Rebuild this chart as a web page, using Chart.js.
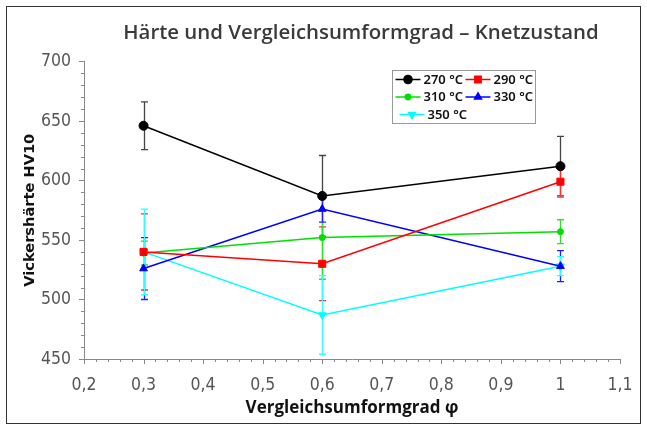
<!DOCTYPE html>
<html>
<head>
<meta charset="utf-8">
<script src="https://cdn.jsdelivr.net/npm/chart.js@4"></script>
<style>
  html, body { margin: 0; padding: 0; background: #fff; }
  #wrap { width: 647px; height: 431px; }
</style>
</head>
<body>
<div id="wrap"><canvas id="c" width="647" height="431"></canvas></div>
<script>
// Vergleichsumformgrad (x) und Härte je Temperatur
const phi = [0.3, 0.6, 1.0];
const temps = ['270 °C', '290 °C', '310 °C', '330 °C', '350 °C'];
const hv270 = [646, 587, 612];
const hv290 = [540, 530, 599];
const hv310 = [539, 552, 557];
const hv330 = [526, 576, 528];
const hv350 = [540, 487, 528];
// Standardabweichung (Fehlerbalken)
const err270 = [20, 34, 25];
const err290 = [32, 31, 13];
const err310 = [10, 35, 10];
const err330 = [26, 11, 13];
const err350 = [36, 33, 8];

const colors = ['#000000', '#ff0000', '#00e000', '#0000ff', '#00ffff'];
const barColors = ['#444444', '#ff3030', '#30e030', '#2020ff', '#30ffff'];
const styles = ['circle', 'rect', 'circle', 'triangle', 'triangle'];
const radii = [4.5, 5, 3, 4.5, 4.5];
const rotations = [0, 0, 0, 0, 180];

const series = [hv270, hv290, hv310, hv330, hv350];
const errors = [err270, err290, err310, err330, err350];

const datasets = series.map((vals, i) => ({
  label: temps[i],
  data: phi.map((x, j) => ({ x: x, y: vals[j] })),
  borderColor: colors[i],
  backgroundColor: colors[i],
  borderWidth: 1.5,
  pointStyle: styles[i],
  pointRadius: radii[i],
  pointRotation: rotations[i],
  pointBorderWidth: 1,
  errs: errors[i],
  barColor: barColors[i],
  tension: 0
}));

const fmt = v => String(Math.round(v * 10) / 10).replace('.', ',');

// Hintergrund + Rahmen, Titel etwas nach rechts
const framePlugin = {
  id: 'frame',
  afterLayout(chart) {
    chart.titleBlock.left += 18;
  },
  beforeDraw(chart) {
    const ctx = chart.ctx;
    ctx.save();
    ctx.fillStyle = '#fff';
    ctx.fillRect(0, 0, chart.width, chart.height);
    ctx.strokeStyle = '#333';
    ctx.lineWidth = 1;
    ctx.strokeRect(6.5, 6.5, 634, 417);
    ctx.restore();
  }
};

// Fehlerbalken
const errorBarPlugin = {
  id: 'errorBars',
  beforeDatasetsDraw(chart) {
    const ctx = chart.ctx;
    const xs = chart.scales.x, ys = chart.scales.y;
    ctx.save();
    chart.data.datasets.forEach(ds => {
      ctx.strokeStyle = ds.barColor;
      ctx.lineWidth = 1.3;
      ds.data.forEach((p, j) => {
        const px = Math.round(xs.getPixelForValue(p.x)) + 0.5;
        const top = ys.getPixelForValue(p.y + ds.errs[j]);
        const bot = ys.getPixelForValue(p.y - ds.errs[j]);
        ctx.beginPath();
        ctx.moveTo(px, top); ctx.lineTo(px, bot);
        ctx.moveTo(px - 3.5, top); ctx.lineTo(px + 3.5, top);
        ctx.moveTo(px - 3.5, bot); ctx.lineTo(px + 3.5, bot);
        ctx.stroke();
      });
    });
    ctx.restore();
  }
};

// Haupt- und Nebenteilstriche
const tickPlugin = {
  id: 'minorTicks',
  afterDraw(chart) {
    const ctx = chart.ctx;
    const xs = chart.scales.x, ys = chart.scales.y;
    const a = chart.chartArea;
    ctx.save();
    ctx.strokeStyle = '#888';
    ctx.lineWidth = 1;
    ctx.beginPath();
    for (let v = 450; v <= 700; v += 10) {
      const py = Math.round(ys.getPixelForValue(v)) + 0.5;
      const len = v % 50 === 0 ? 5 : 3;
      ctx.moveTo(a.left, py); ctx.lineTo(a.left - len, py);
    }
    for (let k = 10; k <= 55; k++) {
      const v = k / 50;
      const px = Math.round(xs.getPixelForValue(v)) + 0.5;
      const len = k % 5 === 0 ? 5 : 3;
      ctx.moveTo(px, a.bottom); ctx.lineTo(px, a.bottom + len);
    }
    ctx.stroke();
    ctx.restore();
  }
};

// Legende im Diagramm
const legendPlugin = {
  id: 'boxLegend',
  afterDraw(chart) {
    const ctx = chart.ctx;
    const bx = 392.5, by = 70.5, bw = 143, bh = 53;
    ctx.save();
    ctx.fillStyle = '#fff';
    ctx.fillRect(bx, by, bw, bh);
    ctx.strokeStyle = '#999';
    ctx.lineWidth = 1;
    ctx.strokeRect(bx, by, bw, bh);
    ctx.font = '600 13px "Noto Sans"';
    ctx.textBaseline = 'middle';
    chart.data.datasets.forEach((ds, i) => {
      const col = i % 2, row = Math.floor(i / 2);
      const x0 = bx + 3 + col * 70 + (i === 4 ? 4 : 0);
      const y0 = by + 9 + row * 17.5;
      ctx.strokeStyle = ds.borderColor;
      ctx.lineWidth = 1.5;
      ctx.beginPath();
      ctx.moveTo(x0, y0); ctx.lineTo(x0 + 25, y0);
      ctx.stroke();
      ctx.fillStyle = ds.backgroundColor;
      Chart.helpers.drawPoint(ctx, {
        pointStyle: ds.pointStyle, radius: ds.pointRadius * 0.9,
        rotation: ds.pointRotation, borderWidth: 1
      }, x0 + 12.5, y0);
      ctx.fillStyle = '#111';
      ctx.fillText(ds.label, x0 + 28, y0 + 0.5);
    });
    ctx.restore();
  }
};

new Chart(document.getElementById('c'), {
  type: 'line',
  data: { datasets: datasets },
  plugins: [framePlugin, errorBarPlugin, tickPlugin, legendPlugin],
  options: {
    responsive: false,
    animation: false,
    layout: { padding: { left: 0, right: 27, top: 0, bottom: 0 } },
    plugins: {
      legend: { display: false },
      tooltip: { enabled: false },
      title: {
        display: true,
        fullSize: false,
        text: 'Härte und Vergleichsumformgrad – Knetzustand',
        color: '#3a3a3a',
        font: { family: 'Open Sans', size: 20.4, weight: 600 },
        padding: { top: 21, bottom: 16 }
      }
    },
    scales: {
      x: {
        type: 'linear',
        min: 0.2, max: 1.1,
        grid: { display: false },
        border: { display: true, color: '#888', width: 1 },
        ticks: {
          stepSize: 0.1,
          padding: 8,
          color: '#555',
          font: { family: 'DejaVu Sans Condensed', size: 17.5 },
          callback: v => fmt(v)
        },
        title: {
          display: true,
          text: 'Vergleichsumformgrad φ',
          color: '#111',
          font: { family: 'Open Sans', size: 17, weight: 'bold' },
          padding: { top: 0, bottom: 13 }
        },
        afterFit(scale) { scale.height = 72; }
      },
      y: {
        min: 450, max: 700,
        grid: { display: false },
        border: { display: true, color: '#888', width: 1 },
        ticks: {
          stepSize: 50,
          padding: 5,
          color: '#555',
          font: { family: 'DejaVu Sans Condensed', size: 17.5 },
          callback: v => String(v)
        },
        title: {
          display: true,
          text: 'Vickershärte HV10',
          color: '#111',
          font: { family: 'DejaVu Sans', size: 14.6, weight: 'bold' },
          padding: { top: 21, bottom: 0 }
        },
        afterFit(scale) { scale.width = 84; }
      }
    }
  }
});
</script>
</body>
</html>
